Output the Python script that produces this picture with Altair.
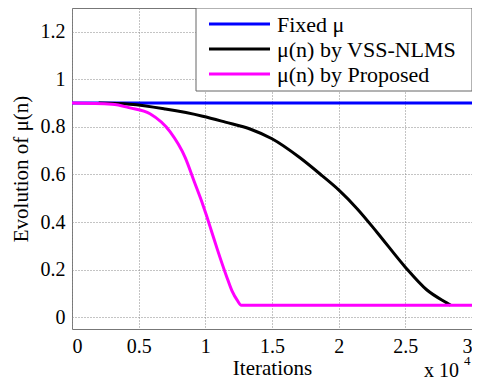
import altair as alt
import pandas as pd

FONT = "Liberation Serif"

series_names = ["Fixed \u03bc", "\u03bc(n) by VSS-NLMS", "\u03bc(n) by Proposed"]
series_colors = ["#0000ff", "#000000", "#ff00ff"]

fixed_x = [0.0, 3.0]
fixed_y = [0.9, 0.9]

vss_x = [0.2, 0.435, 0.7, 0.98, 1.15, 1.34, 1.5, 1.71, 1.875, 2.0, 2.14, 2.29, 2.5, 2.66, 2.81, 2.84]
vss_y = [0.9, 0.895, 0.875, 0.845, 0.82, 0.79, 0.75, 0.67, 0.595, 0.535, 0.455, 0.355, 0.21, 0.115, 0.06, 0.05]

prop_x = [0.0, 0.3, 0.435, 0.585, 0.735, 0.85, 0.92, 0.98, 1.01, 1.05, 1.09, 1.16, 1.2, 1.24, 1.27, 3.0]
prop_y = [0.9, 0.895, 0.88, 0.855, 0.78, 0.67, 0.565, 0.475, 0.425, 0.355, 0.285, 0.17, 0.11, 0.07, 0.05, 0.05]

x_ticks = [0, 0.5, 1, 1.5, 2, 2.5, 3]
y_ticks = [0, 0.2, 0.4, 0.6, 0.8, 1.0, 1.2]

rows = []
for name, xs, ys in zip(series_names, [fixed_x, vss_x, prop_x], [fixed_y, vss_y, prop_y]):
    for i, (a, b) in enumerate(zip(xs, ys)):
        rows.append({"series": name, "x": a, "y": b, "order": i})
df = pd.DataFrame(rows)

color_enc = alt.Color("series:N", scale=alt.Scale(domain=series_names, range=series_colors), legend=None)

lines = alt.Chart(df).mark_line(strokeWidth=3, clip=True, interpolate="monotone").encode(
    x=alt.X("x:Q", scale=alt.Scale(domain=[0, 3], nice=False, zero=False),
            axis=alt.Axis(values=x_ticks, format="~g", title="Iterations",
                          titlePadding=1, labelPadding=7)),
    y=alt.Y("y:Q", scale=alt.Scale(domain=[-0.05, 1.3], nice=False, zero=False),
            axis=alt.Axis(values=y_ticks, format="~g", title="Evolution of \u03bc(n)",
                          titlePadding=9, labelPadding=7)),
    color=color_enc,
    order="order:Q",
    detail="series:N",
)

# legend (built from the series names)
leg_df = pd.DataFrame({"series": series_names, "row": list(range(len(series_names)))})
leg_y = alt.Y("row:Q", scale=alt.Scale(domain=[0, 2], range=[16, 66]), axis=None)

box = alt.Chart(pd.DataFrame({"k": [0]})).mark_rect(
    fill="white", stroke="#666666", strokeWidth=1).encode(
    x=alt.value(124), x2=alt.value(400), y=alt.value(0), y2=alt.value(83))
leg_rules = alt.Chart(leg_df).mark_rule(strokeWidth=3).encode(
    x=alt.value(137), x2=alt.value(198), y=leg_y, color=color_enc)
leg_text = alt.Chart(leg_df).mark_text(
    font=FONT, fontSize=22, align="left", baseline="middle", color="black", dy=1).encode(
    x=alt.value(205), y=leg_y, text="series:N")

exp_df = pd.DataFrame({"t": ["x 10"]})
exp_text = alt.Chart(exp_df).mark_text(font=FONT, fontSize=20, align="left", baseline="alphabetic",
                                       color="black").encode(
    x=alt.value(352), y=alt.value(369), text="t:N")
sup_df = pd.DataFrame({"t": ["4"]})
sup_text = alt.Chart(sup_df).mark_text(font=FONT, fontSize=13, align="left", baseline="alphabetic",
                                       color="black").encode(
    x=alt.value(392), y=alt.value(357), text="t:N")

chart = alt.layer(lines, box, leg_rules, leg_text, exp_text, sup_text).resolve_scale(
    y="independent"
).properties(
    width=400, height=321,
    padding={"left": 64, "top": 0, "right": 0, "bottom": 51},
    autosize=alt.AutoSizeParams(type="none"),
).configure(
    font=FONT
).configure_view(
    stroke="#777777", strokeWidth=1
).configure_axis(
    labelFont=FONT, titleFont=FONT, labelFontSize=20, titleFontSize=21,
    titleFontWeight="normal", labelColor="black", titleColor="black",
    domain=False, ticks=False,
    grid=True, gridColor="#888888", gridDash=[1, 2], gridWidth=1,
)

chart.save("out.html", embed_options={"renderer": "svg", "actions": False})
